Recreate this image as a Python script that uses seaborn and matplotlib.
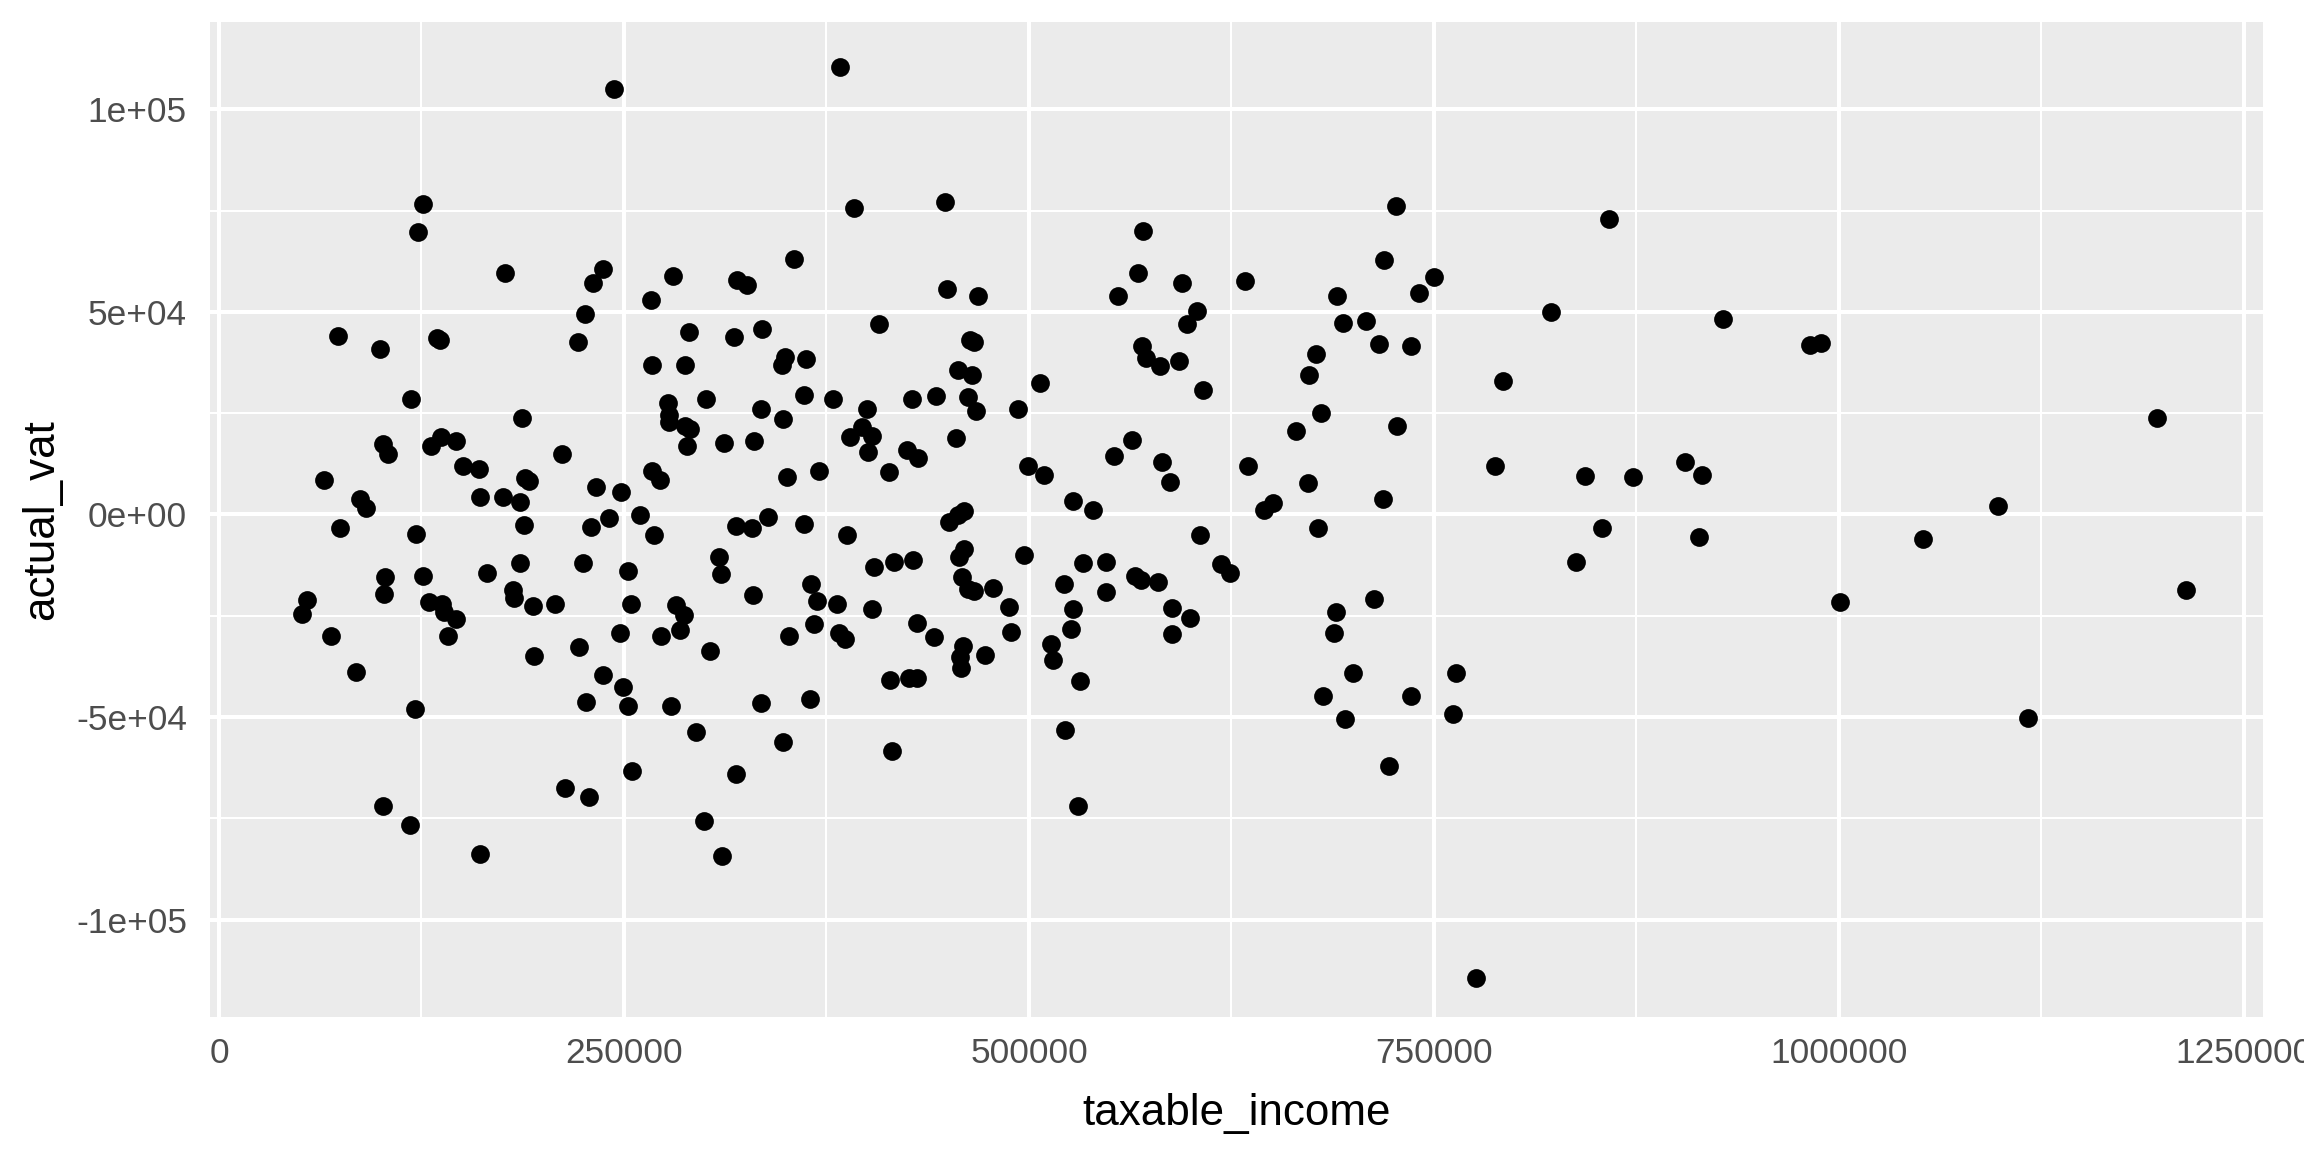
import matplotlib
matplotlib.use("Agg")
import matplotlib.pyplot as plt
import seaborn as sns
import pandas as pd
from matplotlib.ticker import FixedLocator

# values
taxable_income = [
    243660, 125950, 122860, 176780, 237280, 230900, 280090, 266710, 225760, 73470,
    99400, 134390, 136450, 221440, 290180, 267330, 287500, 118750, 300670, 277210,
    277630, 277630, 287710, 290800, 289150, 187280, 101460, 104550, 130680, 136860,
    146330, 211980, 150650, 160320, 65030, 189130, 191390, 267540, 272070, 87260,
    90550, 160930, 175130, 186040, 232550, 248400, 260130,
    383560, 391800, 447980, 570220, 354750, 319970, 326150, 449420, 468350, 567340,
    555000, 594710, 603770, 597590, 317910, 335410, 407440, 463620, 466300, 569810,
    572080, 580720, 592660, 607270, 349400, 347550, 362570, 456010, 465060, 507040,
    361130, 378830, 427610, 442830, 462590, 467120, 493050, 334380, 348170, 400230,
    397150, 403110, 389530, 400440, 311740, 330260, 454980, 424720, 431520, 563640,
    552320, 582160, 587100, 499640, 509510, 350640, 370190, 413610, 527010, 539560,
    459710, 456420, 450860,
    726780, 857880, 718960, 633560, 750240, 690150, 740570, 822070, 928260, 694060,
    707850, 716080, 735840, 677190, 672660, 792850, 680070, 665040, 727400, 635200,
    672040, 787910, 843060, 872900, 905010, 915300, 650840, 645080, 718550,
    982130, 988920, 1196370, 1097990,
    74910, 121630, 188510, 229670, 240790, 268570, 308700, 309730, 185630, 224940,
    252720, 102280, 101870, 126150, 165460, 54330, 51040, 129650, 137470, 139120,
    146110, 141180, 181720, 182340, 193860, 207440, 254160, 281950, 287300, 284620,
    272890, 247570, 222470, 194280, 302930, 69360, 84380, 237080, 249220, 226380,
    252720, 279060, 121220, 294290, 254780, 213820, 228640, 101460, 117920, 299640,
    160930, 310750,
    319150, 328820, 338700, 361130, 387470, 605830, 496960, 404560, 416700, 428430,
    459920, 457030, 533590, 547380, 618380, 624140, 458890, 462590, 466090, 478030,
    487900, 521860, 547380, 565700, 569200, 579690, 527420, 588540, 599450, 588540,
    526180, 513630, 515070, 531740, 488730, 472680, 459300, 457450, 457860, 430900,
    441190, 402910, 414230, 426160, 431100, 381510, 382530, 386650, 365660, 369360,
    367510, 329850, 351660, 334790, 364840, 347960, 319350, 415460, 522480, 530090,
    678630, 853760, 913650, 837710, 713200, 689330, 688510, 700030, 763620, 681300,
    736050, 695090, 762000, 722460, 775760,
    1052100, 1000440, 1214070, 1116720,
]
actual_vat = [
    105140, 76750, 69750, 59710, 60700, 57160, 58890, 53040, 49420, 44160,
    40860, 43580, 43170, 42670, 44980, 36830, 37000, 28600, 28440, 27610,
    24490, 22840, 21850, 21030, 17000, 23830, 17490, 15020, 16910, 19140,
    18150, 14860, 11890, 11320, 8600, 9010, 8190, 10660, 8440, 3910,
    1610, 4400, 4400, 3010, 6790, 5640, -40,
    110490, 75760, 77240, 70000, 63080, 57980, 56580, 55760, 54030, 59630,
    53870, 57160, 50160, 46950, 43740, 45880, 46950, 43170, 42590, 41600,
    38640, 36750, 37980, 30740, 38890, 36830, 38310, 35600, 34530, 32550,
    29590, 28440, 28520, 29180, 29090, 25640, 26130, 26130, 23580, 26130,
    21520, 19300, 19050, 15430, 17660, 18230, 18970, 15840, 14030, 18480,
    14360, 12960, 7940, 12060, 9840, 9180, 10660, 10410, 3420, 1110,
    870, -200, -1850,
    76250, 72880, 62840, 57570, 58640, 53950, 54770, 50080, 48270, 47280,
    47690, 42180, 41690, 39550, 34360, 32960, 24980, 20540, 21850, 11890,
    7780, 12060, 9590, 9340, 12960, 9670, 2840, 1200, 3830,
    41930, 42430, 23830, 2100,
    -3420, -4820, -2590, -3000, -950, -5060, -10410, -14690, -11890, -12060,
    -13870, -15350, -19630, -15270, -14440, -21110, -24650, -21690, -22180, -23990,
    -25800, -30080, -18640, -20530, -22590, -22180, -22100, -22430, -24810, -28600,
    -30000, -29260, -32630, -35020, -33620, -30000, -38810, -39550, -42670, -46380,
    -47360, -47200, -48020, -53620, -63250, -67450, -69750, -71970, -76750, -75760,
    -83910, -84320,
    -2840, -3420, -700, -2350, -5060, -5060, -10000, -12880, -11810, -11240,
    -8600, -10410, -12060, -11650, -12300, -14530, -15350, -18400, -18810, -18070,
    -22840, -17240, -19050, -15100, -16170, -16750, -23250, -23170, -25640, -29420,
    -28190, -32060, -35930, -41110, -29090, -34690, -32470, -35100, -37980, -26710,
    -30250, -23330, -40860, -40450, -40450, -22180, -29340, -30820, -17240, -21280,
    -27040, -19880, -30080, -46460, -45470, -56090, -63990, -58480, -53290, -71970,
    -3420, -3420, -5640, -11810, -20950, -23990, -29340, -39220, -39050, -44810,
    -44810, -50490, -49260, -62100, -114360,
    -6050, -21600, -18720, -50160,
]

x_ticks = [0, 250000, 500000, 750000, 1000000, 1250000]
y_ticks = [-100000, -50000, 0, 50000, 100000]
y_labels = ["-1e+05", "-5e+04", "0e+00", "5e+04", "1e+05"]

df = pd.DataFrame({"taxable_income": taxable_income, "actual_vat": actual_vat})

sns.set_theme(style="darkgrid", rc={
    "axes.facecolor": "#EBEBEB",
    "grid.color": "white",
    "axes.edgecolor": "none",
})
plt.rcParams["font.family"] = ["Liberation Sans", "DejaVu Sans"]

fig = plt.figure(figsize=(8, 4), dpi=288)
ax = fig.add_axes([210 / 2304, 1 - 1017 / 1152, (2263 - 210) / 2304, (1017 - 22) / 1152])

sns.scatterplot(data=df, x="taxable_income", y="actual_vat", color="black",
                s=22, linewidth=0, ax=ax, zorder=3)

ax.set_xlim(-5556, 1261770)
ax.set_ylim(-124070, 121600)
ax.xaxis.set_major_locator(FixedLocator(x_ticks))
ax.set_xticklabels([str(v) for v in x_ticks])
ax.xaxis.set_minor_locator(FixedLocator([125000, 375000, 625000, 875000, 1125000]))
ax.yaxis.set_major_locator(FixedLocator(y_ticks))
ax.set_yticklabels(y_labels)
ax.yaxis.set_minor_locator(FixedLocator([-75000, -25000, 25000, 75000]))

ax.grid(which="major", color="white", linewidth=1.0)
ax.grid(which="minor", color="white", linewidth=0.5)
ax.set_axisbelow(True)
for s in ax.spines.values():
    s.set_visible(False)

ax.tick_params(axis="both", which="major", length=2.75, width=1.0, color="#333333",
               labelsize=8.8, labelcolor="#4D4D4D", pad=2.2)
ax.tick_params(axis="y", which="major", pad=3)
ax.tick_params(axis="both", which="minor", length=0)
ax.set_xlabel("taxable_income", fontsize=11, color="black", labelpad=5.75)
ax.set_ylabel("actual_vat", fontsize=11, color="black", labelpad=3.5)

fig.savefig("out.png", dpi=288, facecolor="white")
